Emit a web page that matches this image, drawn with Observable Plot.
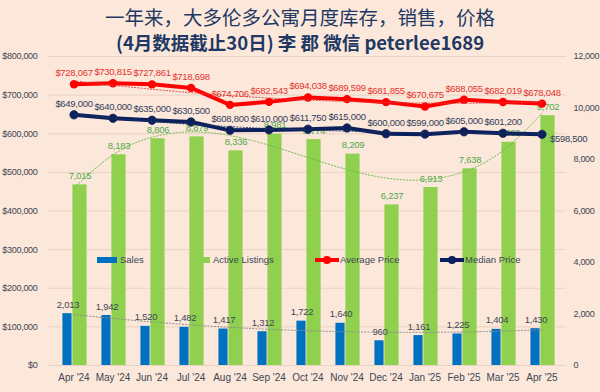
<!DOCTYPE html>
<html><head><meta charset="utf-8">
<script src="https://cdn.jsdelivr.net/npm/d3@7"></script>
<script src="https://cdn.jsdelivr.net/npm/@observablehq/plot@0.6"></script>
<style>
body{margin:0;background:#FCE8DA;}
#wrap{position:relative;width:600px;height:392px;background:#FCE8DA;overflow:hidden;font-family:"Liberation Sans",Arial,sans-serif;}
#chart{position:absolute;left:0;top:0;}
#chart svg text{letter-spacing:-0.3px;}
#chart svg g[aria-label="x-axis tick label"] text{letter-spacing:0;}
.t{position:absolute;left:0;width:600px;text-align:center;color:#1F3864;font-family:"Noto Sans CJK SC",sans-serif;white-space:nowrap;}
#t1{top:4px;font-size:19.5px;line-height:26px;}
#t2{top:29px;font-size:18.5px;line-height:26px;font-weight:bold;}
#legend{position:absolute;left:0;top:0;pointer-events:none;}
</style></head>
<body>
<div id="wrap">
<div id="chart"></div>
<div class="t" id="t1">一年来，大多伦多公寓月度库存，销售，价格</div>
<div class="t" id="t2">(4月数据截止30日) 李 郡 微信 peterlee1689</div>
<svg id="legend" width="600" height="392"></svg>
</div>
<script>
const months = ["Apr '24","May '24","Jun '24","Jul '24","Aug '24","Sep '24","Oct '24","Nov '24","Dec '24","Jan '25","Feb '25","Mar '25","Apr '25"];
const sales = [2013,1942,1520,1482,1417,1312,1722,1640,960,1161,1225,1404,1430];
const listings = [7015,8183,8806,8879,8336,8981,8774,8209,6237,6913,7638,8669,9702];
const avgPrice = [728067,730815,727861,718698,674706,682543,694038,689599,681855,670675,688055,682019,678048];
const medPrice = [649000,640000,635000,630500,608800,610000,611750,615000,600000,599000,605000,601200,598500];
const leftTicks = [0,100000,200000,300000,400000,500000,600000,700000,800000];
const rightTicks = [0,2000,4000,6000,8000,10000,12000];

const K = 800000/12000;
// least-squares polynomial trendline (like Excel), x = 1..n
function polyfit(ys, order){
  const n = ys.length, m = order+1;
  const A = Array.from({length:m},()=>new Array(m+1).fill(0));
  for(let i=0;i<n;i++){
    const x=i+1;
    for(let r=0;r<m;r++){
      for(let c=0;c<m;c++) A[r][c]+=Math.pow(x,r+c);
      A[r][m]+=ys[i]*Math.pow(x,r);
    }
  }
  for(let c=0;c<m;c++){
    let p=c; for(let r=c+1;r<m;r++) if(Math.abs(A[r][c])>Math.abs(A[p][c])) p=r;
    [A[c],A[p]]=[A[p],A[c]];
    for(let r=0;r<m;r++){ if(r===c) continue; const f=A[r][c]/A[c][c]; for(let k=c;k<=m;k++) A[r][k]-=f*A[c][k]; }
  }
  const coef=A.map((row,i)=>row[m]/row[i]);
  return ys.map((_,i)=>coef.reduce((s,a,k)=>s+a*Math.pow(i+1,k),0));
}
const trSales = polyfit(sales,3), trList = polyfit(listings,3), trAvg = polyfit(avgPrice,3), trMed = polyfit(medPrice,3);
const rows = months.map((m,i)=>({m, sales:sales[i], listings:listings[i], avg:avgPrice[i], med:medPrice[i],
  tS:trSales[i]*K, tL:trList[i]*K, tA:trAvg[i], tM:trMed[i], last:i===months.length-1}));

const X0=48, X1=566, bw=(X1-X0)/months.length, half=bw/2;
const fmt = d3.format(",");
const FONT='"Liberation Sans",Arial,sans-serif';
const AX="#404654";

const chart = Plot.plot({
  width:600, height:392,
  marginTop:56, marginBottom:27, marginLeft:X0, marginRight:600-X1,
  style:{background:"transparent", fontFamily:FONT, fontSize:"9px", color:AX},
  x:{type:"band", domain:months, padding:0, label:null},
  y:{domain:[0,800000], label:null},
  marks:[
    Plot.gridY(leftTicks,{stroke:"#E8D2C3", strokeOpacity:1}),
    Plot.axisY({ticks:leftTicks, anchor:"left", tickSize:0, tickPadding:11, tickFormat:d=>"$"+fmt(d), fill:AX, label:null}),
    Plot.axisY({ticks:rightTicks.map(v=>v*K), anchor:"right", tickSize:0, tickPadding:7, tickFormat:d=>fmt(Math.round(d/K)), fill:AX, label:null}),
    Plot.axisX({tickSize:0, tickPadding:8, fill:AX, fontSize:10, label:null}),
    Plot.barY(rows,{x:"m", y:d=>d.sales*K, fill:"#0070C0", insetLeft:half-11.5, insetRight:half+1.5}),
    Plot.barY(rows,{x:"m", y:d=>d.listings*K, fill:"#8FD14F", insetLeft:half-1.5, insetRight:half-13.5}),
    Plot.text(rows,{x:"m", y:d=>d.sales*K, text:d=>fmt(d.sales), dx:-6, dy:-9, fill:AX, fontSize:9.5}),
    Plot.text(rows,{x:"m", y:d=>d.listings*K, text:d=>fmt(d.listings), dx:6, dy:-9, fill:"#4EA84A", fontSize:9.5}),
    Plot.line(rows,{x:"m", y:"tS", stroke:"#8C8C8C", strokeWidth:1, strokeDasharray:"1.2 2", curve:"natural"}),
    Plot.line(rows,{x:"m", y:"tL", stroke:"#6DB84A", strokeWidth:1, strokeDasharray:"1.2 2", curve:"natural"}),
    Plot.line(rows,{x:"m", y:"avg", stroke:"#FF0000", strokeWidth:4}),
    Plot.dot(rows,{x:"m", y:"avg", r:4.2, fill:"#FF0000"}),
    Plot.line(rows,{x:"m", y:"med", stroke:"#0A1F5C", strokeWidth:4}),
    Plot.dot(rows,{x:"m", y:"med", r:4.2, fill:"#0A1F5C", stroke:"#22305a", strokeWidth:0.8}),
    Plot.line(rows,{x:"m", y:"tA", stroke:"#E04040", strokeWidth:1, strokeDasharray:"1.2 2", curve:"natural"}),
    Plot.line(rows,{x:"m", y:"tM", stroke:"#1F3864", strokeWidth:1, strokeDasharray:"1.2 2", curve:"natural"}),
    Plot.text(rows,{x:"m", y:"avg", text:d=>"$"+fmt(d.avg), dy:-11, fill:"#E5322E", fontSize:9.5}),
    Plot.text(rows.filter(d=>!d.last),{x:"m", y:"med", text:d=>"$"+fmt(d.med), dy:-11, fill:"#333D5C", fontSize:9.5}),
    Plot.text(rows.filter(d=>d.last),{x:"m", y:"med", text:d=>"$"+fmt(d.med), dx:8, dy:5, textAnchor:"start", fill:"#333D5C", fontSize:9.5})
  ]
});
document.getElementById("chart").appendChild(chart);

// legend
const lg = d3.select("#legend");
const LY = 260;
const items = [
  {x:97, label:"Sales", kind:"rect", color:"#0070C0"},
  {x:190, label:"Active Listings", kind:"rect", color:"#8FD14F"},
  {x:315, label:"Average Price", kind:"line", color:"#FF0000"},
  {x:440, label:"Median Price", kind:"line", color:"#0A1F5C"}
];
items.forEach(it=>{
  if(it.kind==="rect"){
    lg.append("rect").attr("x",it.x).attr("y",LY-3).attr("width",20).attr("height",6).attr("fill",it.color);
  } else {
    lg.append("line").attr("x1",it.x).attr("x2",it.x+24).attr("y1",LY).attr("y2",LY).attr("stroke",it.color).attr("stroke-width",4);
    lg.append("circle").attr("cx",it.x+12).attr("cy",LY).attr("r",4).attr("fill",it.color);
  }
  lg.append("text").attr("x",it.x+(it.kind==="rect"?23:25)).attr("y",LY).attr("dy","0.35em")
    .attr("font-family",FONT).attr("font-size","9.5px").attr("fill",AX).text(it.label);
});
</script>
</body></html>
